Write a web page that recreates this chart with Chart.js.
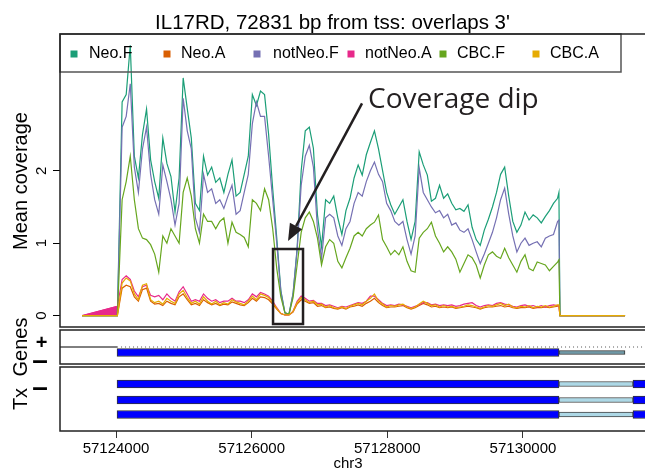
<!DOCTYPE html>
<html>
<head>
<meta charset="utf-8">
<script src="https://cdn.jsdelivr.net/npm/chart.js@4.4.0/dist/chart.umd.min.js"></script>
<style>
  html, body { margin: 0; padding: 0; background: #fff; width: 645px; height: 471px; overflow: hidden; }
  canvas { position: absolute; left: 0; top: 0; }
</style>
</head>
<body>
<canvas id="cov" width="700" height="471"></canvas>
<canvas id="genes" width="700" height="471"></canvas>
<canvas id="tx" width="700" height="471"></canvas>
<script>
// genomic positions (chr3, bp) where coverage was sampled
const positions = [
  57123500, 57124020,
  57124090, 57124150, 57124210, 57124270, 57124330, 57124390, 57124450, 57124510, 57124570, 57124630,
  57124690, 57124750, 57124810, 57124870, 57124930, 57124990, 57125050, 57125110, 57125170, 57125230,
  57125290, 57125350, 57125410, 57125470, 57125530, 57125590, 57125650, 57125710, 57125770, 57125830,
  57125890, 57125950, 57126010, 57126070, 57126130, 57126190, 57126250, 57126310, 57126370, 57126430,
  57126490, 57126550, 57126610, 57126670, 57126730, 57126790, 57126850, 57126910, 57126970, 57127030,
  57127090, 57127150, 57127210, 57127270, 57127330, 57127390, 57127450, 57127510, 57127570, 57127630,
  57127690, 57127750, 57127810, 57127870, 57127930, 57127990, 57128050, 57128110, 57128170, 57128230,
  57128290, 57128350, 57128410, 57128470, 57128530, 57128590, 57128650, 57128710, 57128770, 57128830,
  57128890, 57128950, 57129010, 57129070, 57129130, 57129190, 57129250, 57129310, 57129370, 57129430,
  57129490, 57129550, 57129610, 57129670, 57129730, 57129790, 57129850, 57129910, 57129970, 57130030,
  57130090, 57130150, 57130210, 57130270, 57130330, 57130390, 57130450, 57130510,
  57130530, 57130545, 57131505
];

const neoF = [0, 0,
  2.95, 3.05, 3.73, 2.2, 1.9, 2.5, 2.85, 2.15, 1.85, 1.62,
  2.45, 2.1, 1.92, 1.43, 1.9, 3.28, 2.86, 2.45, 1.55, 1.45,
  2.2, 1.94, 2.05, 1.84, 1.9, 1.7, 1.95, 2.15, 1.65, 1.7,
  1.95, 2.2, 3.05, 2.9, 3.1, 3.05, 2.5, 1.75, 1.07, 0.35,
  0.04, 0.02, 0.3, 0.93, 2.0, 2.55, 2.6, 2.31, 1.39, 0.95,
  1.6, 1.55, 1.65, 1.35, 1.12, 1.45, 1.62, 1.9, 2.08, 1.94,
  2.22, 2.39, 2.55, 2.3, 2.0, 1.7, 1.53, 1.4, 1.5, 1.6,
  1.3, 1.05, 1.3, 2.26, 2.08, 1.94, 1.58, 1.62, 1.8, 1.62,
  1.68, 1.55, 1.46, 1.48, 1.44, 1.53, 1.22, 1.05, 0.97, 1.18,
  1.33, 1.5, 1.7, 1.95, 2.05, 1.65, 1.3, 1.15, 1.25, 1.43,
  1.32, 1.39, 1.35, 1.28, 1.37, 1.45, 1.55, 1.62,
  1.7, 0, 0];

const neoA = [0, 0,
  0.38, 0.42, 0.4, 0.26, 0.2, 0.36, 0.38, 0.2, 0.16, 0.17,
  0.14, 0.2, 0.17, 0.15, 0.26, 0.3, 0.22, 0.15, 0.17, 0.14,
  0.22, 0.18, 0.15, 0.17, 0.14, 0.16, 0.15, 0.19, 0.17, 0.15,
  0.14, 0.18, 0.24, 0.2, 0.26, 0.25, 0.22, 0.16, 0.09, 0.03,
  0.01, 0.01, 0.05, 0.16, 0.22, 0.2, 0.17, 0.18, 0.13, 0.14,
  0.11, 0.12, 0.1, 0.09, 0.11, 0.09, 0.12, 0.13, 0.15, 0.13,
  0.17, 0.2, 0.24, 0.18, 0.14, 0.11, 0.12, 0.12, 0.13, 0.14,
  0.11, 0.09, 0.11, 0.14, 0.17, 0.15, 0.12, 0.13, 0.11, 0.12,
  0.11, 0.12, 0.1, 0.11, 0.12, 0.13, 0.12, 0.11, 0.09, 0.11,
  0.12, 0.12, 0.13, 0.14, 0.12, 0.13, 0.11, 0.1, 0.11, 0.11,
  0.12, 0.1, 0.11, 0.11, 0.12, 0.11, 0.12, 0.13,
  0.13, 0, 0];

const notNeoF = [0, 0,
  2.6, 2.75, 3.2, 2.05, 1.7, 2.3, 2.6, 1.95, 1.6, 1.4,
  2.08, 1.85, 1.6, 1.25, 1.55, 3.0, 2.55, 2.3, 1.35, 1.15,
  1.95, 1.7, 1.75, 1.55, 1.6, 1.48, 1.65, 1.8, 1.4, 1.45,
  1.7, 1.95, 2.65, 2.95, 2.75, 2.75, 2.2, 1.6, 1.0, 0.33,
  0.04, 0.02, 0.3, 0.9, 1.8, 2.2, 2.35, 2.05, 1.2, 0.79,
  1.35, 1.4, 1.35, 1.1, 0.97, 1.2, 1.3, 1.55, 1.7, 1.65,
  1.85, 2.0, 2.12, 1.95, 1.85, 1.55, 1.45, 1.3, 1.25, 1.3,
  1.05, 0.85, 1.1, 2.04, 1.7, 1.6, 1.5, 1.42, 1.45, 1.35,
  1.4, 1.25, 1.28, 1.18, 1.15, 1.2, 1.05, 0.88, 0.72, 0.85,
  1.0, 1.15, 1.35, 1.6, 1.76, 1.4, 1.1, 0.88, 1.0, 1.07,
  0.97, 1.0, 1.02, 0.95, 1.07, 1.1, 1.12, 1.3,
  1.32, 0, 0];

const notNeoA = [0, 0.13,
  0.5, 0.55, 0.5, 0.34, 0.26, 0.4, 0.42, 0.28, 0.26, 0.28,
  0.22, 0.3, 0.24, 0.2, 0.33, 0.4, 0.3, 0.2, 0.22, 0.2,
  0.3, 0.24, 0.2, 0.22, 0.18, 0.2, 0.2, 0.24, 0.2, 0.2,
  0.18, 0.22, 0.3, 0.26, 0.32, 0.3, 0.27, 0.2, 0.11, 0.03,
  0.01, 0.01, 0.06, 0.2, 0.27, 0.24, 0.2, 0.21, 0.17, 0.17,
  0.14, 0.15, 0.13, 0.11, 0.13, 0.12, 0.14, 0.16, 0.18, 0.17,
  0.2, 0.27, 0.27, 0.22, 0.17, 0.14, 0.15, 0.14, 0.16, 0.15,
  0.13, 0.11, 0.13, 0.15, 0.18, 0.18, 0.15, 0.16, 0.14, 0.15,
  0.14, 0.15, 0.13, 0.14, 0.16, 0.17, 0.18, 0.14, 0.12, 0.14,
  0.15, 0.14, 0.17, 0.18, 0.16, 0.15, 0.13, 0.12, 0.14, 0.15,
  0.13, 0.14, 0.12, 0.14, 0.12, 0.14, 0.15, 0.14,
  0.14, 0, 0];

const cbcF = [0, 0,
  1.6, 1.85, 2.2, 1.6, 1.2, 1.07, 1.05, 0.98, 0.85, 0.6,
  1.1, 1.0, 1.2, 1.1, 1.0, 1.7, 1.9, 1.65, 1.2, 1.0,
  1.4, 1.3, 1.3, 1.2, 1.3, 1.35, 1.0, 1.29, 1.15, 1.12,
  1.08, 0.95, 1.6, 1.55, 1.45, 1.75, 1.6, 1.2, 0.65, 0.26,
  0.04, 0.02, 0.25, 0.7, 1.15, 1.35, 1.43, 1.3, 1.07, 0.7,
  0.95, 1.05, 1.0, 0.75, 0.66, 0.8, 0.93, 1.1, 1.15, 1.1,
  1.2, 1.25, 1.29, 1.39, 1.05, 0.95, 0.84, 0.9, 0.84, 0.95,
  0.75, 0.62, 0.6, 1.07, 1.15, 1.2, 1.29, 1.1, 1.0, 0.88,
  0.95, 0.88, 0.78, 0.6, 0.72, 0.84, 0.8, 0.7, 0.52, 0.7,
  0.84, 0.88, 0.82, 0.79, 0.93, 0.8, 0.7, 0.6, 0.75, 0.84,
  0.65, 0.62, 0.74, 0.72, 0.7, 0.62, 0.68, 0.74,
  0.77, 0, 0];

const cbcA = [0, 0,
  0.45, 0.52, 0.48, 0.3, 0.22, 0.42, 0.44, 0.22, 0.18, 0.2,
  0.16, 0.24, 0.2, 0.17, 0.3, 0.35, 0.25, 0.17, 0.2, 0.16,
  0.26, 0.2, 0.16, 0.2, 0.15, 0.18, 0.16, 0.22, 0.19, 0.17,
  0.15, 0.2, 0.27, 0.22, 0.3, 0.28, 0.25, 0.18, 0.1, 0.03,
  0.01, 0.01, 0.06, 0.18, 0.25, 0.22, 0.18, 0.2, 0.15, 0.16,
  0.12, 0.14, 0.11, 0.1, 0.12, 0.1, 0.13, 0.15, 0.17, 0.15,
  0.2, 0.24, 0.3, 0.2, 0.16, 0.12, 0.14, 0.13, 0.15, 0.16,
  0.12, 0.1, 0.12, 0.16, 0.2, 0.17, 0.14, 0.15, 0.12, 0.14,
  0.12, 0.13, 0.11, 0.12, 0.13, 0.15, 0.14, 0.12, 0.1, 0.12,
  0.14, 0.13, 0.15, 0.17, 0.14, 0.16, 0.12, 0.11, 0.13, 0.12,
  0.14, 0.11, 0.13, 0.12, 0.14, 0.12, 0.13, 0.15,
  0.15, 0, 0];

const seriesNames = ['Neo.F', 'Neo.A', 'notNeo.F', 'notNeo.A', 'CBC.F', 'CBC.A'];
const seriesValues = [neoF, neoA, notNeoF, notNeoA, cbcF, cbcA];
const seriesColors = ['#1B9E77', '#D95F02', '#7570B3', '#E7298A', '#66A61E', '#E6AB02'];

const yTicks = [0, 1, 2];
const xTicks = [57124000, 57126000, 57128000, 57130000];

// gene model (bp)
const strandLine = [57123174, 57124015];
const geneCds = [57124015, 57130531];
const geneUtr = [57130531, 57131504];
const txCds = [57124015, 57130531];
const txUtr = [57130531, 57131622];
const txCds2 = [57131622, 57132300];
const txCount = 3;

const XMIN = 57123174;
const XMAX = 57132094;

seriesValues.forEach((s, k) => {
  if (s.length !== positions.length) throw new Error('bad length ' + seriesNames[k] + ' ' + s.length);
});

Chart.defaults.font.family = '"Liberation Sans", Arial, sans-serif';
Chart.defaults.color = '#000';
Chart.defaults.animation = false;
Chart.defaults.plugins.legend.display = false;
Chart.defaults.plugins.tooltip.enabled = false;

const INK = '#231F20';

function vText(ctx, text, x, y, font) {
  ctx.save();
  ctx.translate(x, y);
  ctx.rotate(-Math.PI / 2);
  ctx.font = font;
  ctx.textAlign = 'center';
  ctx.textBaseline = 'alphabetic';
  ctx.fillText(text, 0, 0);
  ctx.restore();
}

const panelBox = {
  id: 'panelBox',
  afterDraw(chart) {
    const { ctx, chartArea: a } = chart;
    ctx.save();
    ctx.strokeStyle = '#222';
    ctx.lineWidth = 1.5;
    ctx.strokeRect(a.left, a.top, a.right - a.left, a.bottom - a.top);
    ctx.restore();
  }
};

// dip annotation, in data units
const dipBox = { x0: 57126315, x1: 57126757, y0: -0.115, y1: 0.92 };
const dipArrow = { x0: 57127627, y0: 2.93, x1: 57126536, y1: 1.03 };
const dipLabel = { x: 57127715, y: 2.865, text: 'Coverage dip' };

const legendSlots = [[74, 89], [167, 181], [257, 273], [351, 365], [443, 457], [536, 550]];

const coverageDecor = {
  id: 'coverageDecor',
  afterDatasetsDraw(chart) {
    const { ctx, chartArea: a, scales: { x, y } } = chart;
    ctx.save();

    // legend
    ctx.strokeStyle = '#555';
    ctx.lineWidth = 1.5;
    ctx.strokeRect(a.left, a.top, 621 - a.left, 38);
    ctx.font = '16px "Liberation Sans", Arial, sans-serif';
    ctx.textBaseline = 'middle';
    ctx.textAlign = 'left';
    seriesNames.forEach((name, k) => {
      const [sx, tx] = legendSlots[k];
      ctx.fillStyle = seriesColors[k];
      ctx.fillRect(sx - 3.5, 50.5, 7, 7);
      ctx.fillStyle = '#000';
      ctx.fillText(name, tx, 54);
    });

    // box around the dip
    ctx.strokeStyle = INK;
    ctx.fillStyle = INK;
    ctx.lineWidth = 2.5;
    const bx0 = x.getPixelForValue(dipBox.x0), bx1 = x.getPixelForValue(dipBox.x1);
    const by0 = y.getPixelForValue(dipBox.y1), by1 = y.getPixelForValue(dipBox.y0);
    ctx.strokeRect(bx0, by0, bx1 - bx0, by1 - by0);

    // arrow
    const ax0 = x.getPixelForValue(dipArrow.x0), ay0 = y.getPixelForValue(dipArrow.y0);
    const ax1 = x.getPixelForValue(dipArrow.x1), ay1 = y.getPixelForValue(dipArrow.y1);
    const ang = Math.atan2(ay1 - ay0, ax1 - ax0);
    const headLen = 17, headHalf = 7;
    const hx = ax1 - headLen * Math.cos(ang), hy = ay1 - headLen * Math.sin(ang);
    ctx.beginPath();
    ctx.moveTo(ax0, ay0);
    ctx.lineTo(hx, hy);
    ctx.stroke();
    ctx.beginPath();
    ctx.moveTo(ax1, ay1);
    ctx.lineTo(hx + headHalf * Math.sin(ang), hy - headHalf * Math.cos(ang));
    ctx.lineTo(hx - headHalf * Math.sin(ang), hy + headHalf * Math.cos(ang));
    ctx.closePath();
    ctx.fill();

    ctx.font = '28px "Open Sans", sans-serif';
    ctx.textBaseline = 'alphabetic';
    ctx.fillText(dipLabel.text, x.getPixelForValue(dipLabel.x), y.getPixelForValue(dipLabel.y));

    // title
    ctx.fillStyle = '#000';
    ctx.textAlign = 'center';
    ctx.font = '20.5px "Liberation Sans", Arial, sans-serif';
    ctx.fillText("IL17RD, 72831 bp from tss: overlaps 3'", 332.5, 29);

    // y axis labels
    yTicks.forEach(t => vText(ctx, String(t), 45.5, y.getPixelForValue(t), '15px "Liberation Sans", Arial, sans-serif'));
    vText(ctx, 'Mean coverage', 27, 181, '20px "Liberation Sans", Arial, sans-serif');
    ctx.restore();
  }
};

const covDatasets = seriesNames.map((name, k) => ({
  label: name,
  data: positions.map((p, i) => ({ x: p, y: seriesValues[k][i] })),
  borderColor: seriesColors[k],
  borderWidth: 1.2,
  pointRadius: 0,
  tension: 0,
  fill: false,
  order: 6 - k
}));
// filled start of notNeo.A
covDatasets.push({
  label: 'notNeo.A start',
  data: positions.slice(0, 2).map((p, i) => ({ x: p, y: notNeoA[i] })),
  backgroundColor: seriesColors[3],
  borderColor: seriesColors[3],
  borderWidth: 1,
  pointRadius: 0,
  fill: 'origin',
  order: 7
});

new Chart(document.getElementById('cov'), {
  type: 'line',
  data: { datasets: covDatasets },
  options: {
    responsive: false,
    devicePixelRatio: 1,
    layout: { padding: { top: 34, right: 35, bottom: 144, left: 0 } },
    scales: {
      x: { type: 'linear', min: XMIN, max: XMAX, display: false },
      y: {
        type: 'linear', min: -0.156, max: 3.886,
        afterFit: s => { s.width = 60; },
        afterBuildTicks: s => { s.ticks = yTicks.map(v => ({ value: v })); },
        ticks: { display: false },
        grid: { display: true, drawOnChartArea: false, drawTicks: true, tickLength: 7, color: '#000', tickColor: '#000' },
        border: { display: false }
      }
    }
  },
  plugins: [coverageDecor, panelBox]
});

// Genes panel
const genesRows = { strand: 17, gene: 22.5 };
const sideLabels = {
  id: 'sideLabels',
  afterDraw(chart) {
    const { ctx } = chart;
    ctx.save();
    ctx.fillStyle = '#000';
    ctx.textAlign = 'center';
    ctx.textBaseline = 'alphabetic';
    if (chart.canvas.id === 'genes') {
      vText(ctx, 'Genes', 27, 347, '20px "Liberation Sans", Arial, sans-serif');
      ctx.font = 'bold 20px "Liberation Sans", Arial, sans-serif';
      ctx.fillText('+', 41.5, 348.5);
      ctx.font = 'bold 28px "Liberation Sans", Arial, sans-serif';
      ctx.fillText('–', 40, 369);
    } else {
      vText(ctx, 'Tx', 27, 399, '20px "Liberation Sans", Arial, sans-serif');
      ctx.font = 'bold 28px "Liberation Sans", Arial, sans-serif';
      ctx.fillText('–', 40, 395.5);
      ctx.font = '15px "Liberation Sans", Arial, sans-serif';
      ctx.fillText('chr3', 348, 468);
    }
    ctx.restore();
  }
};

new Chart(document.getElementById('genes'), {
  type: 'bar',
  data: {
    datasets: [
      { type: 'line', data: strandLine.map(p => ({ x: p, y: genesRows.strand })), borderColor: '#000', borderWidth: 1, pointRadius: 0 },
      { type: 'line', data: [{ x: strandLine[1], y: genesRows.strand }, { x: XMAX, y: genesRows.strand }], borderColor: '#555', borderWidth: 1, borderDash: [1, 3], pointRadius: 0 },
      { type: 'bar', indexAxis: 'y', grouped: false, data: [{ x: geneCds, y: genesRows.gene }], backgroundColor: '#0000FF', borderColor: '#333', borderWidth: 1, borderSkipped: false, barThickness: 8 },
      { type: 'bar', indexAxis: 'y', grouped: false, data: [{ x: geneUtr, y: genesRows.gene }], backgroundColor: '#6E98A6', borderColor: '#333', borderWidth: 1, borderSkipped: false, barThickness: 4 }
    ]
  },
  options: {
    responsive: false,
    devicePixelRatio: 1,
    layout: { padding: { top: 330, right: 35, bottom: 107, left: 60 } },
    scales: {
      x: { type: 'linear', min: XMIN, max: XMAX, display: false, offset: false, grid: { offset: false } },
      y: { type: 'linear', min: 0, max: 34, reverse: true, display: false, offset: false, grid: { offset: false } }
    }
  },
  plugins: [panelBox, sideLabels]
});

// Tx panel
const txRows = [17, 33, 47.5].slice(0, txCount);
new Chart(document.getElementById('tx'), {
  type: 'bar',
  data: {
    datasets: [
      { indexAxis: 'y', grouped: false, data: txRows.map(r => ({ x: txUtr, y: r })), backgroundColor: '#ADD8E6', borderColor: '#444', borderWidth: 1, borderSkipped: false, barThickness: 5 },
      { indexAxis: 'y', grouped: false, data: txRows.map(r => ({ x: txCds, y: r })), backgroundColor: '#0000FF', borderColor: '#333', borderWidth: 1, borderSkipped: false, barThickness: 8 },
      { indexAxis: 'y', grouped: false, data: txRows.map(r => ({ x: txCds2, y: r })), backgroundColor: '#0000FF', borderColor: '#333', borderWidth: 1, borderSkipped: false, barThickness: 8 }
    ]
  },
  options: {
    responsive: false,
    devicePixelRatio: 1,
    layout: { padding: { top: 367, right: 35, bottom: 0, left: 60 } },
    scales: {
      x: {
        type: 'linear', min: XMIN, max: XMAX, position: 'bottom', offset: false,
        afterFit: s => { s.height = 40; },
        afterBuildTicks: s => { s.ticks = xTicks.map(v => ({ value: v })); },
        ticks: { font: { size: 15 }, color: '#000', padding: 2, maxRotation: 0, callback: v => String(v) },
        grid: { display: true, offset: false, drawOnChartArea: false, drawTicks: true, tickLength: 7, color: '#333', tickColor: '#333' },
        border: { display: false }
      },
      y: { type: 'linear', min: 0, max: 64, reverse: true, display: false, offset: false, grid: { offset: false } }
    }
  },
  plugins: [panelBox, sideLabels]
});
</script>
</body>
</html>
